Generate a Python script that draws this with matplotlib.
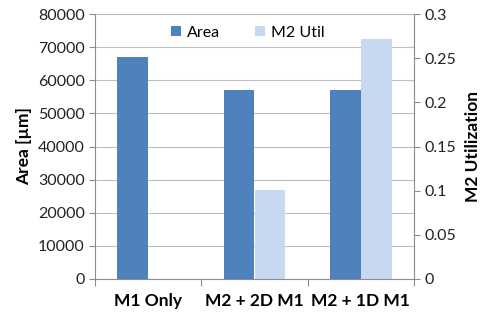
import matplotlib
matplotlib.use("Agg")
import matplotlib.pyplot as plt
import numpy as np

plt.rcParams["font.family"] = ["Lato", "DejaVu Sans"]

categories = ["M1 Only", "M2 + 2D M1", "M2 + 1D M1"]
area = [67000, 57200, 57200]
m2_util = [0.0, 0.101, 0.272]

blue = "#4F81BD"
light = "#C6D9F1"
grid_c = "#8C8C8C"

fig = plt.figure(figsize=(4.87, 3.2), dpi=100)
ax = fig.add_axes([95 / 487, 1 - 279 / 320, (414 - 95) / 487, (279 - 14) / 320])
ax2 = ax.twinx()

x = np.arange(len(categories))
w = 0.29
b1 = ax.bar(x - w / 2, area, w, color=blue, label="Area", zorder=3)
b2 = ax2.bar(x + w / 2, m2_util, w, color=light, label="M2 Util", zorder=3)

ax.set_xlim(-0.5, 2.5)
ax.set_ylim(0, 80000)
ax.set_yticks(np.arange(0, 80001, 10000))
ax2.set_ylim(0, 0.3)
ax2.set_yticks([0, 0.05, 0.1, 0.15, 0.2, 0.25, 0.3])
ax2.set_yticklabels(["0", "0.05", "0.1", "0.15", "0.2", "0.25", "0.3"])

ax.yaxis.grid(True, color=grid_c, linewidth=0.8, alpha=0.55)
ax.set_axisbelow(True)

for a in (ax, ax2):
    a.spines["top"].set_visible(False)
    a.tick_params(colors=grid_c, labelcolor="#222222", labelsize=11.5, length=4)
ax.spines["right"].set_visible(False)
ax2.spines["left"].set_visible(False)
ax2.spines["bottom"].set_visible(False)
ax.spines["left"].set_color(grid_c)
ax.spines["bottom"].set_color(grid_c)
ax2.spines["right"].set_color(grid_c)

# category boundaries get the tick marks, names sit between them
ax.set_xticks([-0.5, 0.5, 1.5, 2.5])
ax.set_xticklabels([])
ax.set_xticks(x, minor=True)
ax.set_xticklabels(categories, minor=True, fontsize=12.5, fontweight="bold")
ax.tick_params(axis="x", which="major", length=5)
ax.tick_params(axis="x", which="minor", length=0, pad=10)

ax.set_ylabel("Area [µm]", fontsize=12.5, fontweight="bold", labelpad=4)
ax2.set_ylabel("M2 Utilization", fontsize=12.5, fontweight="bold", labelpad=6)

ax.legend([b1, b2], ["Area", "M2 Util"], loc="upper center", ncol=2, frameon=False,
          fontsize=11.5, handlelength=0.6, handleheight=0.6, columnspacing=2.2,
          handletextpad=0.4, bbox_to_anchor=(0.48, 1.01))

fig.savefig("out.png", dpi=100)
